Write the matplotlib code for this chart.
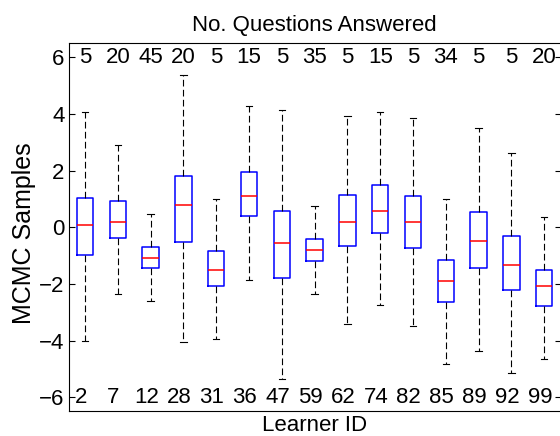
import numpy as np
import matplotlib
matplotlib.use('Agg')
import matplotlib.pyplot as plt

plt.rcParams['font.family'] = ['Liberation Sans', 'DejaVu Sans']

# data
learner_ids = [2, 7, 12, 28, 31, 36, 47, 59, 62, 74, 82, 85, 89, 92, 99]
n_answered = [5, 20, 45, 20, 5, 15, 5, 35, 5, 15, 5, 34, 5, 5, 20]
whisker_hi = [4.08, 2.91, 0.46, 5.38, 1.00, 4.30, 4.16, 0.76, 3.92, 4.06, 3.85, 1.00, 3.52, 2.61, 0.37]
q3 = [1.05, 0.93, -0.70, 1.82, -0.85, 1.94, 0.59, -0.42, 1.15, 1.48, 1.09, -1.17, 0.55, -0.30, -1.51]
medians = [0.08, 0.20, -1.07, 0.79, -1.50, 1.09, -0.57, -0.80, 0.19, 0.58, 0.18, -1.90, -0.50, -1.32, -2.09]
q1 = [-0.98, -0.39, -1.45, -0.51, -2.09, 0.39, -1.78, -1.19, -0.67, -0.20, -0.74, -2.63, -1.43, -2.23, -2.77]
whisker_lo = [-4.02, -2.37, -2.60, -4.04, -3.95, -1.87, -5.36, -2.37, -3.42, -2.73, -3.49, -4.82, -4.38, -5.14, -4.64]

stats = []
for i in range(len(learner_ids)):
    stats.append({'med': medians[i], 'q1': q1[i], 'q3': q3[i],
                  'whislo': whisker_lo[i], 'whishi': whisker_hi[i],
                  'fliers': [], 'label': str(learner_ids[i])})

fig = plt.figure(figsize=(5.6, 4.36), dpi=100)
ax = fig.add_axes([0.1225, 0.0567, 0.8786, 0.844])

pos = np.arange(1, len(learner_ids) + 1)
ax.bxp(stats, positions=pos, widths=0.5, showfliers=False,
       boxprops=dict(color='blue', linewidth=1.1),
       medianprops=dict(color='red', linewidth=1.1),
       whiskerprops=dict(color='black', linewidth=0.8, linestyle=(0, (6, 3))),
       capprops=dict(color='black', linewidth=0.8),
       capwidths=0.2)

ax.set_xlim(0.5, len(learner_ids) + 0.5)
ax.set_ylim(-6.5, 6.5)
ax.set_yticks(np.arange(-6, 7, 2))
ax.set_xticks([])
ax.tick_params(axis='y', direction='in', right=True, length=4, labelsize=16, pad=3)

# counts along the top, IDs along the bottom
for p, n in zip(pos, n_answered):
    ax.text(p, 6, str(n), ha='center', va='center', fontsize=16)
for p, lid in zip(pos, learner_ids):
    ax.text(p - 0.13, -6, str(lid), ha='center', va='center', fontsize=16)

ax.set_title('No. Questions Answered', fontsize=16, pad=9)
ax.set_ylabel('MCMC Samples', fontsize=18)
ax.yaxis.set_label_coords(-0.066, 0.4845)
ax.text(0.5, -0.0535, 'Learner ID', transform=ax.transAxes, ha='center',
        va='baseline', fontsize=16)

fig.savefig('out.png', dpi=100)
